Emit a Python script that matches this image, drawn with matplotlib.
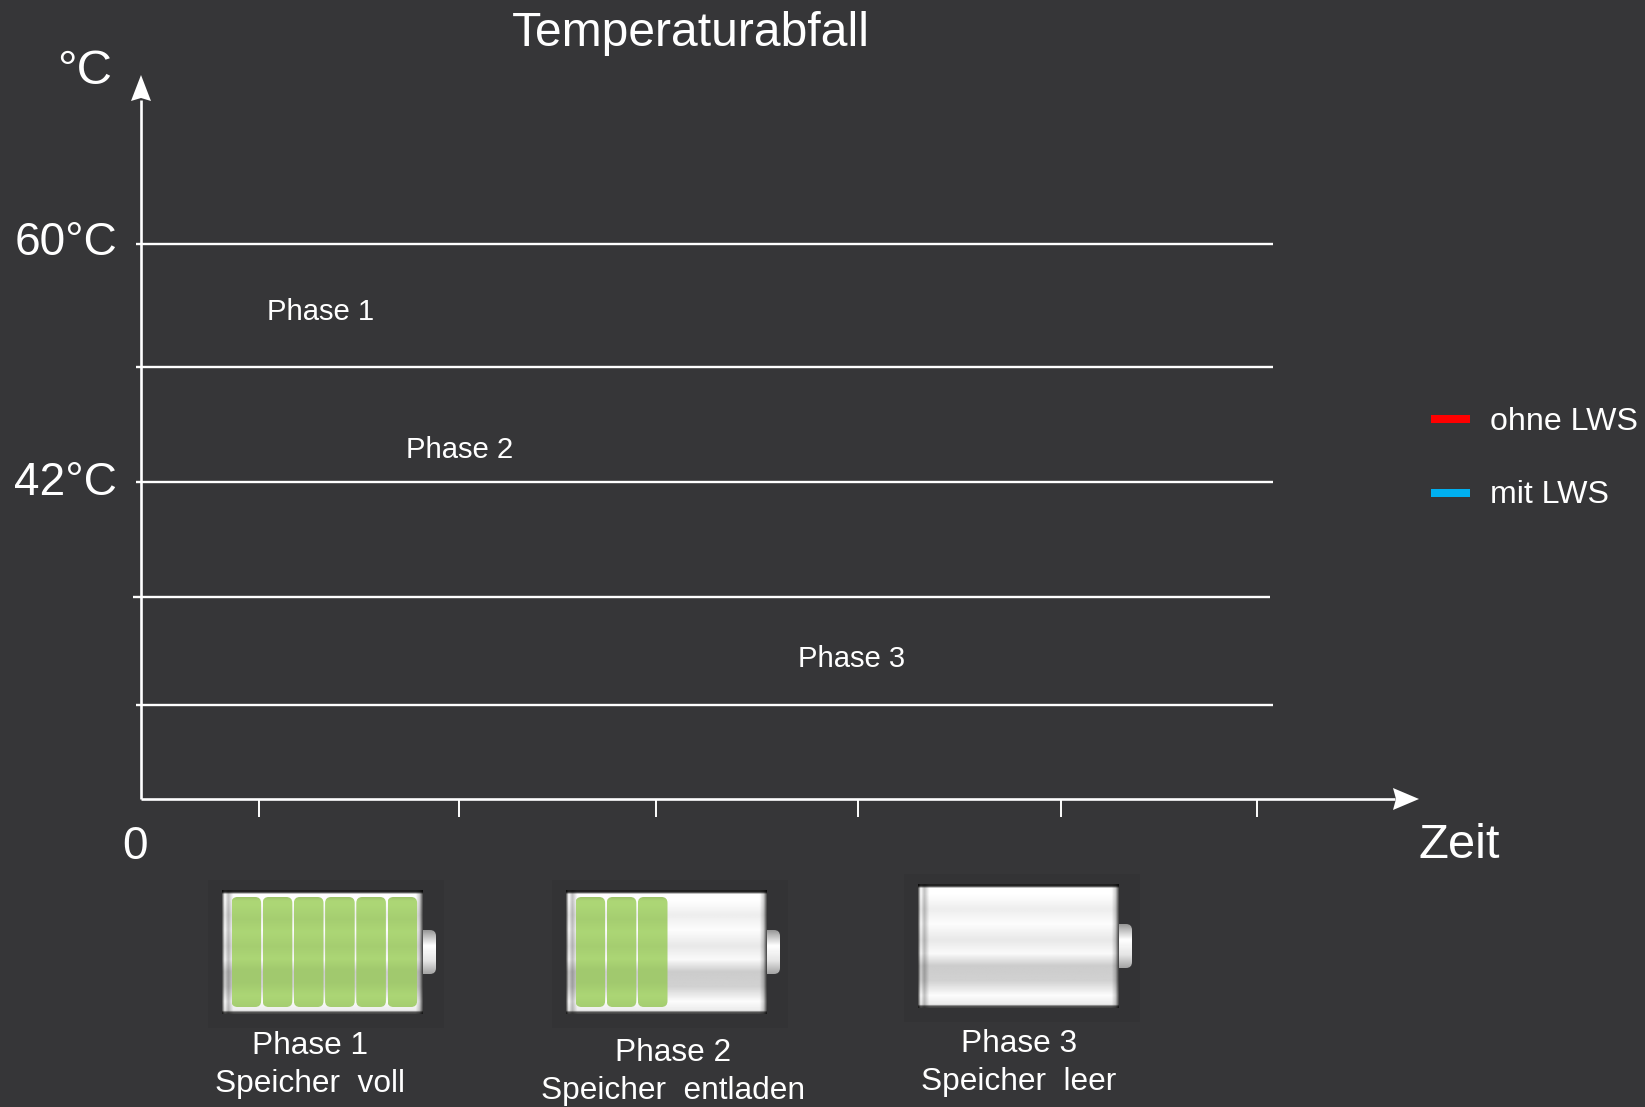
import numpy as np
import matplotlib
matplotlib.use("Agg")
import matplotlib.pyplot as plt
from matplotlib.patches import Polygon, Rectangle, FancyBboxPatch

plt.rcParams['font.family'] = ['Liberation Sans', 'DejaVu Sans']

BG = '#363638'
W, H = 1645, 1107

title = 'Temperaturabfall'
line_levels = [244, 367, 482, 597, 704.5]
line_starts = [136, 136, 136, 133, 136]
line_ends = [1273, 1273, 1273, 1270, 1273]
tick_positions = [259, 458.5, 656, 858, 1060.5, 1257]
temperature_labels = ['60°C', '42°C']
temperature_levels = [243, 483]
phase_names = ['Phase 1', 'Phase 2', 'Phase 3']
phase_x = [321, 460, 852]
phase_y = [312, 450, 659]
legend_labels = ['ohne LWS', 'mit LWS']
legend_colors = ['#ff0000', '#00b0f0']
legend_y = [419, 493]
legend_text_y = [422, 495]
battery_x = [222, 566, 918]
battery_y = [890, 890, 884]
battery_cells = [6, 3, 0]
caption_phase = ['Phase 1', 'Phase 2', 'Phase 3']
caption_state = ['Speicher  voll', 'Speicher  entladen', 'Speicher  leer']
caption_x = [310, 673, 1019]
caption_y = [1046, 1053, 1044]

fig = plt.figure(figsize=(W / 100, H / 100), dpi=100, facecolor=BG)
ax = fig.add_axes([0, 0, 1, 1])
ax.set_facecolor(BG)
ax.axis('off')


def px(size):
    return size * 0.72


def label(x, y, s, size, ha='center', va='center'):
    ax.text(x, y, s, color='white', fontsize=px(size), ha=ha, va=va)


# axes with arrow heads
ax.plot([141, 141], [100, 799], color='white', lw=1.9, solid_capstyle='butt')
ax.plot([141, 1395], [799, 799], color='white', lw=1.9, solid_capstyle='butt')
ax.add_patch(Polygon([(141, 75), (151, 101), (141, 98), (131, 101)], fc='white', ec='none'))
ax.add_patch(Polygon([(1419, 799), (1393, 788), (1396, 799), (1393, 810)], fc='white', ec='none'))

for y, a, b in zip(line_levels, line_starts, line_ends):
    ax.plot([a, b], [y, y], color='white', lw=1.7, solid_capstyle='butt')
for x in tick_positions:
    ax.plot([x, x], [799, 817], color='white', lw=1.4, solid_capstyle='butt')

label(691, 34, title, 48)
label(84.5, 72, '°C', 49)
for s, y in zip(temperature_labels, temperature_levels):
    label(117, y, s, 46, ha='right')
label(135.5, 847, '0', 46)
label(1418, 845, 'Zeit', 49, ha='left')
for s, x, y in zip(phase_names, phase_x, phase_y):
    label(x, y, s, 29.2)

for s, c, y, ty in zip(legend_labels, legend_colors, legend_y, legend_text_y):
    ax.add_patch(Rectangle((1431, y - 4), 39, 8, fc=c, ec='none'))
    label(1489.5, ty, s, 32.2, ha='left')

# battery shading
v_pos = [0.0, 0.03, 0.08, 0.2, 0.32, 0.45, 0.56, 0.66, 0.78, 0.9, 1.0]
v_val = [0.85, 1.0, 1.0, 0.93, 0.99, 0.91, 0.98, 0.8, 0.82, 0.99, 0.9]
h_pos = [0.0, 0.012, 0.03, 0.055, 0.5, 0.965, 0.985, 1.0]
h_val = [0.35, 1.0, 0.75, 1.0, 1.0, 1.0, 0.8, 0.3]
yy = np.linspace(0, 1, 160)
xx = np.linspace(0, 1, 320)
body = np.outer(np.interp(yy, v_pos, v_val), np.interp(xx, h_pos, h_val))
edge = np.interp(yy, [0, 0.012, 0.03, 0.975, 0.99, 1], [0.15, 0.15, 1, 1, 0.3, 0.3])
body = body * edge[:, None]

for bx, by, cells, cap_x, cap_y, s1, s2 in zip(battery_x, battery_y, battery_cells,
                                               caption_x, caption_y, caption_phase, caption_state):
    bw, bh = 201, 124
    ax.add_patch(Rectangle((bx - 14, by - 10), 236, 148, fc='#333335', ec='none', zorder=1))
    # terminal
    tv = np.interp(np.linspace(0, 1, 40), [0, 0.35, 0.7, 1], [0.6, 1, 0.9, 0.65])
    cap = FancyBboxPatch((bx + bw - 6, by + 40), 19, 44,
                         boxstyle='round,pad=0,rounding_size=6', fc='none', ec='none')
    ax.add_patch(cap)
    term = ax.imshow(tv[:, None], cmap='gray', vmin=0, vmax=1, aspect='auto', zorder=2,
                     extent=(bx + bw - 6, bx + bw + 13, by + 84, by + 40), interpolation='bilinear')
    term.set_clip_path(cap)
    ax.imshow(body, cmap='gray', vmin=0, vmax=1, aspect='auto', zorder=3,
              extent=(bx, bx + bw, by + bh, by), interpolation='bilinear')
    seg = 31.2
    green = np.interp(yy, v_pos, [0.92, 1, 1, 0.96, 1, 0.96, 1, 0.94, 0.94, 1, 0.96])
    rgb = np.outer(green, np.array([0.675, 0.84, 0.46]))[:, None, :]
    for i in range(cells):
        x0 = bx + 9.5 + i * seg
        patch = FancyBboxPatch((x0, by + 7), seg - 1.6, bh - 14,
                               boxstyle='round,pad=0,rounding_size=6', fc='none', ec='none')
        ax.add_patch(patch)
        im = ax.imshow(rgb, aspect='auto', zorder=4,
                       extent=(x0, x0 + seg, by + bh - 7, by + 7), interpolation='bilinear')
        im.set_clip_path(patch)
    label(cap_x, cap_y, s1, 31.6)
    label(cap_x, cap_y + 38, s2, 31.6)

ax.set_xlim(0, W)
ax.set_ylim(H, 0)
fig.savefig('out.png', dpi=100, facecolor=BG)
